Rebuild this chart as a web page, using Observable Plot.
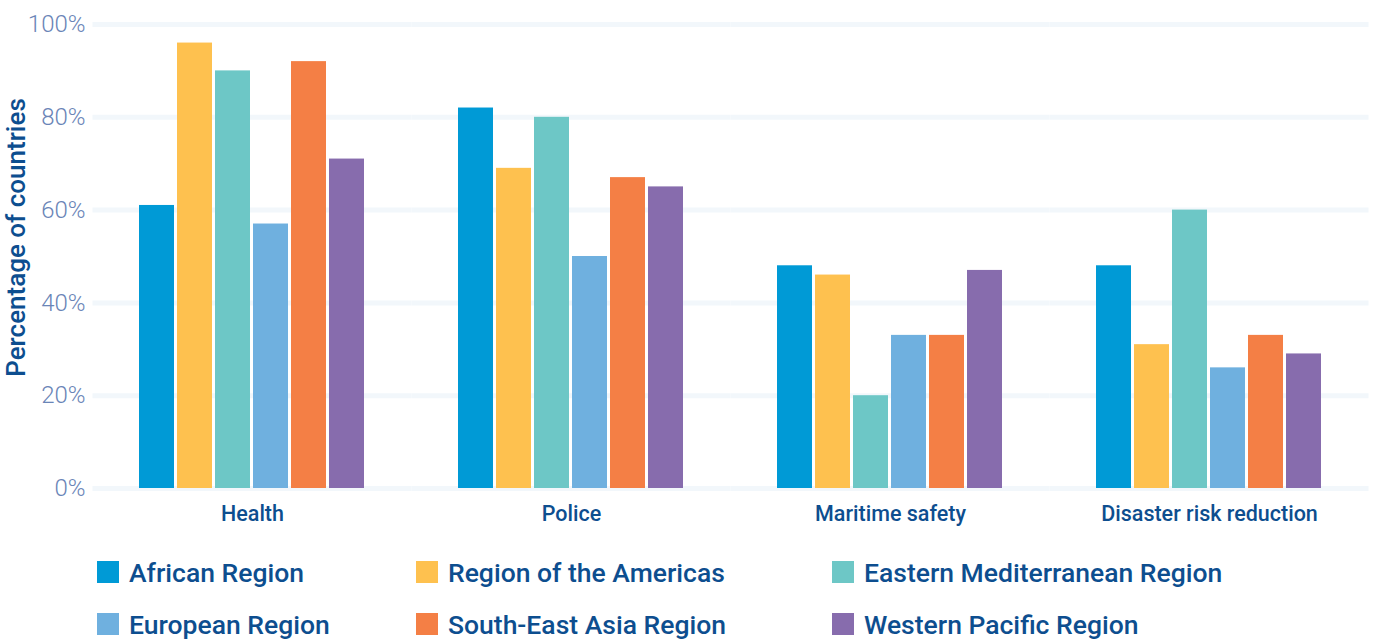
<!DOCTYPE html>
<html>
<head>
<meta charset="utf-8">
<script src="https://cdn.jsdelivr.net/npm/d3@7"></script>
<script src="https://cdn.jsdelivr.net/npm/@observablehq/plot@0.6"></script>
<style>
  html, body { margin: 0; padding: 0; background: #fff; }
  body { width: 1375px; height: 639px; overflow: hidden; font-family: Roboto, "Noto Sans", sans-serif; }
  #legend { display: grid; grid-template-columns: 319px 416px 400px; margin-left: 97px; row-gap: 30px; margin-top: 26px; }
  .item { display: flex; align-items: center; height: 22px; font-size: 26.5px; font-weight: 500; color: #0d4e8f; white-space: nowrap; }
  .sw { width: 22px; height: 22px; margin-right: 10px; flex: none; }
</style>
</head>
<body>
<div id="chart"></div>
<div id="legend"></div>
<script>
const categories = ["Health", "Police", "Maritime safety", "Disaster risk reduction"];
const regions = ["African Region", "Region of the Americas", "Eastern Mediterranean Region", "European Region", "South-East Asia Region", "Western Pacific Region"];
const colors = ["#009ad6", "#fec14f", "#6dc7c6", "#6fb0df", "#f47f45", "#876cad"];
const african = [61, 82, 48, 48];
const americas = [96, 69, 46, 31];
const easternMed = [90, 80, 20, 60];
const european = [57, 50, 33, 26];
const southEastAsia = [92, 67, 33, 33];
const westernPacific = [71, 65, 47, 29];
const yTicks = [0, 20, 40, 60, 80, 100];

const series = [african, americas, easternMed, european, southEastAsia, westernPacific];
const data = [];
categories.forEach((c, i) => regions.forEach((r, j) => data.push({category: c, region: r, value: series[j][i]})));

const chart = Plot.plot({
  width: 1375,
  height: 535,
  marginLeft: 94,
  marginRight: 8,
  marginTop: 24,
  marginBottom: 47,
  style: {fontFamily: "Roboto, sans-serif", background: "#fff"},
  fx: {domain: categories, paddingInner: 0.28, paddingOuter: 0.135, label: null},
  x: {domain: regions, paddingInner: 0.07, paddingOuter: 0, axis: null},
  y: {domain: [0, 100], label: null},
  color: {domain: regions, range: colors},
  marks: [
    Plot.ruleY(yTicks, {y: d => d, stroke: "#f2f7fb", strokeWidth: 5, insetLeft: -44.5, insetRight: -44.5}),
    Plot.barY(data, {fx: "category", x: "region", y: "value", fill: "region"}),
    Plot.axisY({ticks: yTicks, tickFormat: d => d + "%", tickSize: 0, tickPadding: 52, fontSize: 24, fontWeight: 300, color: "#6a85b7", label: null}),
    Plot.text(["Percentage of countries"], {frameAnchor: "left", dx: -121, dy: -19, rotate: -90, textAnchor: "middle", fontSize: 26, fontWeight: 500, fill: "#0d4e8f", facet: "super"}),
    Plot.axisFx({anchor: "bottom", tickSize: 0, tickPadding: 17, fontSize: 21.5, fontWeight: 500, color: "#0d4e8f", label: null})
  ]
});
document.getElementById("chart").appendChild(chart);

const legend = document.getElementById("legend");
regions.forEach((r, i) => {
  const el = document.createElement("div");
  el.className = "item";
  el.innerHTML = `<span class="sw" style="background:${colors[i]}"></span><span>${r}</span>`;
  legend.appendChild(el);
});
</script>
</body>
</html>
